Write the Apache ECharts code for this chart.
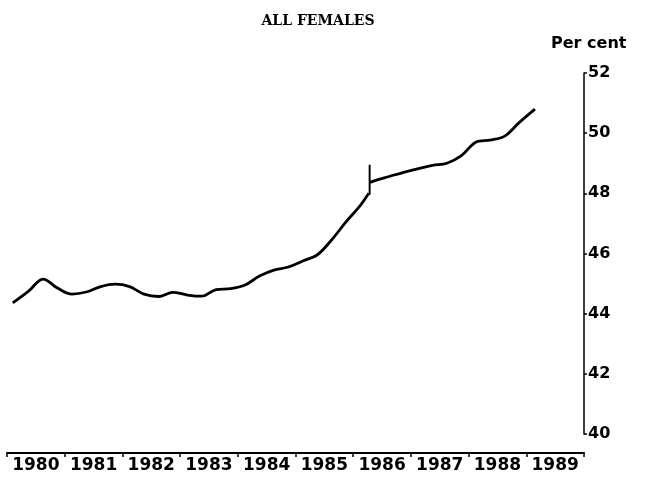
<!DOCTYPE html>
<html><head><meta charset="utf-8">
<script src="https://cdn.jsdelivr.net/npm/echarts@6/dist/echarts.min.js"></script>
<style>html,body{margin:0;padding:0;background:#fff}#c{width:648px;height:482px}</style>
</head><body><div id="c"></div>
<script>
var years = ['1980','1981','1982','1983','1984','1985','1986','1987','1988','1989'];
var yTicks = [40, 42, 44, 46, 48, 50, 52];
// old series (decimal year, per cent)
var oldTimes = [1980.10,1980.375,1980.625,1980.875,1981.125,1981.375,1981.625,1981.875,1982.125,1982.375,1982.625,1982.875,1983.125,1983.375,1983.625,1983.875,1984.125,1984.375,1984.625,1984.875,1985.125,1985.375,1985.625,1985.875,1986.125,1986.27];
var oldValues = [44.36,44.75,45.15,44.85,44.65,44.72,44.90,44.98,44.90,44.65,44.57,44.71,44.62,44.58,44.80,44.83,44.95,45.25,45.45,45.55,45.75,45.95,46.45,47.05,47.60,48.00];
// new series after break
var newTimes = [1986.29,1986.375,1986.625,1986.875,1987.125,1987.375,1987.625,1987.875,1988.125,1988.375,1988.625,1988.875,1989.15];
var newValues = [48.36,48.42,48.56,48.70,48.82,48.93,49.00,49.25,49.70,49.77,49.90,50.35,50.80];
// break marker
var breakTimes = [1986.285, 1986.285];
var breakValues = [47.95, 48.95];

function pairs(t, v){ return t.map(function(x,i){ return [x, v[i]]; }); }

var chart = echarts.init(document.getElementById('c'));
var lineStyle = {color:'#000', width:2.8};
chart.setOption({
  animation:false,
  backgroundColor:'#fff',
  title:{text:'ALL FEMALES', left:313, top:9, textAlign:'center',
    textStyle:{fontFamily:'DejaVu Serif', fontWeight:'bold', fontSize:14, color:'#000'}},
  graphic:[{type:'text', left:551, top:36,
    style:{text:'Per cent', font:'bold 16px "DejaVu Sans"', fill:'#000'}}],
  grid:{left:7, right:64, top:73, bottom:48},
  xAxis:[
    {type:'category', data:years, boundaryGap:true, offset:19,
     axisLine:{lineStyle:{color:'#000', width:2}},
     axisTick:{show:true, length:4, lineStyle:{color:'#000', width:1.5}},
     axisLabel:{color:'#000', fontFamily:'DejaVu Sans', fontWeight:'bold', fontSize:17, margin:4, interval:0},
     splitLine:{show:false}},
    {type:'value', min:1980, max:1990, show:false, splitLine:{show:false}}
  ],
  yAxis:{type:'value', position:'right', min:yTicks[0], max:yTicks[yTicks.length-1], interval:2,
    axisLine:{show:true, lineStyle:{color:'#000', width:1.5}},
    axisTick:{show:true, inside:false, length:3, lineStyle:{color:'#000', width:1.5}},
    axisLabel:{color:'#000', fontFamily:'DejaVu Sans', fontWeight:'bold', fontSize:16, margin:4},
    splitLine:{show:false}},
  series:[
    {type:'line', xAxisIndex:1, data:pairs(oldTimes, oldValues), smooth:0.35, showSymbol:false, lineStyle:lineStyle},
    {type:'line', xAxisIndex:1, data:pairs(newTimes, newValues), smooth:0.35, showSymbol:false, lineStyle:lineStyle},
    {type:'line', xAxisIndex:1, data:pairs(breakTimes, breakValues), showSymbol:false, lineStyle:{color:'#000', width:2}}
  ]
});
</script></body></html>
